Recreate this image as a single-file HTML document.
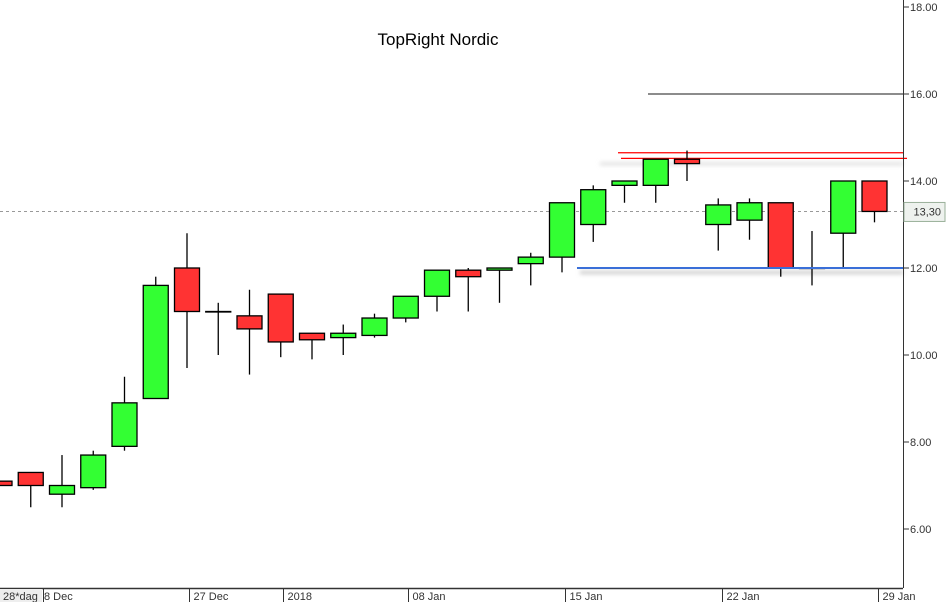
<!DOCTYPE html>
<html><head><meta charset="utf-8"><style>
body{margin:0;background:#fff;}
svg{display:block;font-family:"Liberation Sans",sans-serif;}
</style></head><body>
<svg id="c" width="947" height="602">
<defs><filter id="sh" x="-5%" y="-200%" width="110%" height="500%"><feGaussianBlur stdDeviation="2"/></filter></defs>
<text x="438" y="45" text-anchor="middle" font-size="17" fill="#000">TopRight Nordic</text>
<g id="grid"></g><g id="lines"></g><g id="candles"></g><g id="axes"></g>
</svg>
<script>
const opens  =[7.1,7.3,6.8,6.95,7.9,9.0,12.0,11.0,10.9,11.4,10.5,10.4,10.45,10.85,11.35,11.95,11.95,12.1,12.25,13.0,13.9,13.9,14.5,13.0,13.1,13.5,12.0,12.8,14.0];
const closes =[7.0,7.0,7.0,7.7,8.9,11.6,11.0,11.0,10.6,10.3,10.35,10.5,10.85,11.35,11.95,11.8,12.0,12.25,13.5,13.8,14.0,14.5,14.4,13.45,13.5,12.0,12.0,14.0,13.3];
const highs  =[7.1,7.3,7.7,7.8,9.5,11.8,12.8,11.2,11.5,11.4,10.5,10.7,10.95,11.35,11.95,12.0,12.0,12.35,13.5,13.9,14.0,14.5,14.7,13.6,13.6,13.5,12.85,14.0,14.0];
const lows   =[7.0,6.5,6.5,6.9,7.8,9.0,9.7,10.0,9.55,9.95,9.9,10.0,10.4,10.75,11.0,11.0,11.2,11.6,11.9,12.6,13.5,13.5,14.0,12.4,12.65,11.8,11.6,12.0,13.05];
const yTicks =[6,8,10,12,14,16,18];
const xLabels=["27 Dec","2018","08 Jan","15 Jan","22 Jan","29 Jan"];
const xLabelIdx=[6,9,13,18,23,28];
const lastPrice=13.30;
const ns="http://www.w3.org/2000/svg";
const y=v=>7+(18-v)*43.5;
const x=i=>-0.5+i*31.25;
function mk(t,a,p){const e=document.createElementNS(ns,t);for(const k in a)e.setAttribute(k,a[k]);p.appendChild(e);return e;}
const G=id=>document.getElementById(id);
let dl=mk('line',{x1:0,x2:903,y1:y(lastPrice),y2:y(lastPrice),stroke:'#999','stroke-dasharray':'3,3'},G('grid'));


let gl=mk('line',{x1:648,x2:903,y1:y(16),y2:y(16),stroke:'#666','stroke-width':1.5},G('lines'));


mk('rect',{x:600,y:y(14.5)+3,width:303,height:3,fill:'#ddd',filter:'url(#sh)'},G('lines'));
let r1=mk('line',{x1:618,x2:903,y1:y(14.65),y2:y(14.65),stroke:'#f00','stroke-width':1.3},G('lines'));


let r2=mk('line',{x1:621,x2:907,y1:y(14.52),y2:y(14.52),stroke:'#f00','stroke-width':1.3},G('lines'));


mk('rect',{x:580,y:y(12)+3,width:323,height:3,fill:'#c4c4c4',filter:'url(#sh)'},G('lines'));
for(let i=0;i<opens.length;i++){
  const cx=x(i),up=closes[i]>=opens[i];
  const g=mk('g',{},G('candles'));
  
  
  mk('line',{x1:cx,x2:cx,y1:y(highs[i]),y2:y(lows[i]),stroke:'#000','stroke-width':1.3},g);
  const t=y(Math.max(opens[i],closes[i])),b=y(Math.min(opens[i],closes[i]));
  mk('rect',{x:cx-12.5,y:t,width:25,height:Math.max(b-t,0.5),fill:up?'#33ff33':'#ff3333',stroke:'#000','stroke-width':1.3},g);
}
let bl=mk('line',{x1:577,x2:903,y1:y(12),y2:y(12),stroke:'#3a6fd8','stroke-width':2},G('lines'));
G('candles').after(bl);


const A=G('axes');
mk('line',{x1:903.5,x2:903.5,y1:0,y2:588,stroke:'#333'},A);
mk('line',{x1:0,x2:903,y1:588.5,y2:588.5,stroke:'#333','stroke-width':1.5},A);
yTicks.forEach(v=>{
  mk('line',{x1:903,x2:909,y1:y(v),y2:y(v),stroke:'#333'},A);
  const t=mk('text',{x:910,y:y(v)+4,'font-size':11,fill:'#333'},A);
  t.textContent=v.toFixed(2);
  
  
});
let pb=mk('rect',{x:904,y:y(lastPrice)-9,width:41,height:19,fill:'#eef2ee',stroke:'#9ab09a'},A);


let pt=mk('text',{x:941,y:y(lastPrice)+4,'font-size':11,fill:'#333','text-anchor':'end'},A);
pt.textContent='13,30';


mk('rect',{x:0,y:589,width:42,height:13,fill:'#eee'},A);
let p0=mk('text',{x:3,y:600,'font-size':11,fill:'#333'},A);p0.textContent='28*dag';


mk('line',{x1:43.5,x2:43.5,y1:588,y2:602,stroke:'#333'},A);
let p1=mk('text',{x:44,y:600,'font-size':11,fill:'#333'},A);p1.textContent='8 Dec';


xLabels.forEach((s,k)=>{
  const i=xLabelIdx[k];
  const tx=Math.round(x(i)+1+i*0.1)+0.5;
  mk('line',{x1:tx,x2:tx,y1:588,y2:602,stroke:'#333'},A);
  const t=mk('text',{x:tx+4,y:600,'font-size':11,fill:'#333'},A);
  t.textContent=s;
  
  
});
</script>
</body></html>
